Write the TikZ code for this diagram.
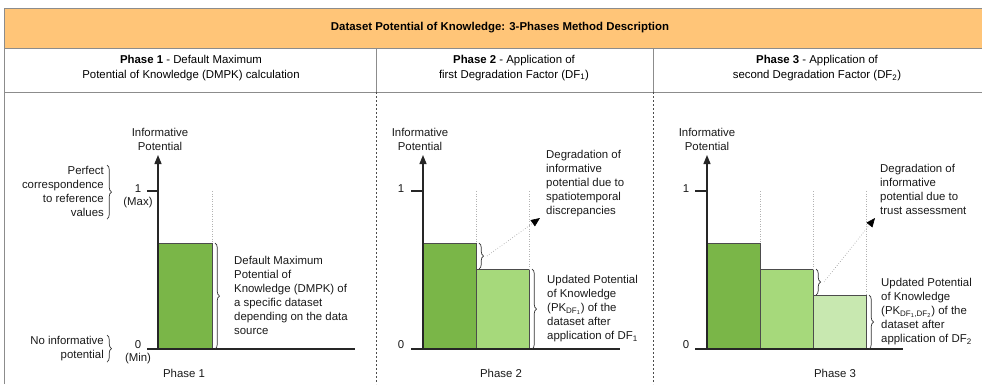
\documentclass[tikz,border=0pt]{standalone}
\usepackage{fontspec}
\setmainfont{Liberation Sans}
\usetikzlibrary{arrows.meta,decorations.pathreplacing}
\definecolor{hdrorange}{HTML}{FFC578}
\definecolor{gdark}{HTML}{7AB648}
\definecolor{gmid}{HTML}{A6D97B}
\definecolor{glight}{HTML}{C8E8B0}
\definecolor{framegray}{HTML}{8C8C8C}
\begin{document}
\begin{tikzpicture}[x=1pt,y=-1pt,
  txt/.style={font=\fontsize{11.4}{14}\selectfont, inner sep=0pt, text=black!90},
  hdr/.style={font=\fontsize{11.4}{14.5}\selectfont, inner sep=0pt, align=center},
  bar/.style={draw=black!70, line width=0.6pt},
  axis/.style={line width=1.3pt, black!85},
  axarrow/.style={line width=1.3pt, black!85, -{Triangle[length=9pt,width=7pt]}},
  guide/.style={draw=black!30, line width=0.5pt, dotted},
  brc/.style={decorate, decoration={brace, amplitude=4.5pt, aspect=0.5}, line width=0.7pt, black!80},
  pointer/.style={draw=black!45, line width=0.6pt, dotted, -{Triangle[length=9pt,width=7.5pt,black]}},
  sep/.style={draw=black!70, line width=0.6pt, dash pattern=on 2pt off 2pt},
]
\useasboundingbox (0,0) rectangle (982,384);
% ---------- frame ----------
\fill[hdrorange] (4,8) rectangle (982,48);
\draw[framegray, line width=0.8pt] (4,384) -- (4,8) -- (982,8);
\draw[framegray, line width=0.8pt] (4,48) -- (982,48);
\draw[framegray, line width=0.8pt] (4,92) -- (982,92);
\draw[framegray, line width=0.8pt] (376,48) -- (376,92);
\draw[framegray, line width=0.8pt] (653,48) -- (653,92);
\draw[sep] (376,92) -- (376,384);
\draw[sep] (653,92) -- (653,384);
\node[hdr, font=\fontsize{11.4}{14}\selectfont\bfseries] (title) at (500,28) {Dataset Potential of Knowledge: 3-Phases Method Description};
\node[hdr] (h1) at (191,68) {\textbf{Phase 1} - Default Maximum\\Potential of Knowledge (DMPK) calculation};
\node[hdr] (h2) at (514,68) {\textbf{Phase 2} - Application of\\first Degradation Factor (DF\textsubscript{1})};
\node[hdr] (h3) at (817,68) {\textbf{Phase 3} - Application of\\second Degradation Factor (DF\textsubscript{2})};

% ---------- Phase 1 ----------
\coordinate (o1) at (158,349);
\coordinate (t1) at (158,155);
\coordinate (b1s) at (147,349);
\coordinate (b1e) at (355,349);
\fill[gdark] (158,243) rectangle (212,349);
\draw[bar] (158,349) -- (158,243) -- (212,243) -- (212,349);
\draw[guide] (212,191) -- (212,243);
\draw[axis] (b1s) -- (b1e);
\draw[axarrow] (o1) -- (t1);
\draw[axis] (147,191) -- (158,191);
\node[txt, align=center] (ip1) at (160,139) {Informative\\Potential};
\node[txt] (one1) at (138,189) {1};
\node[txt] (max1) at (138,203) {(Max)};
\node[txt] (zero1) at (138,345) {0};
\node[txt] (min1) at (138,359) {(Min)};
\draw[brc] (107,165) -- (107,219);
\node[txt, align=right, anchor=north east] (perf) at (104,166) {Perfect\\correspondence\\to reference\\values};
\draw[brc] (107,335) -- (107,362);
\node[txt, align=right, anchor=north east] (noinf) at (104,336) {No informative\\potential};
\draw[brc] (215,243) -- (215,349);
\node[txt, align=left, anchor=north west] (dmpk) at (234,256) {Default Maximum\\Potential of\\Knowledge (DMPK) of\\a specific dataset\\depending on the data\\source};
\node[txt] (p1) at (184,373) {Phase 1};

% ---------- Phase 2 ----------
\coordinate (o2) at (423,349);
\coordinate (t2) at (423,155);
\fill[gdark] (423,243) rectangle (476,349);
\fill[gmid] (476,269) rectangle (529,349);
\draw[bar] (423,349) -- (423,243) -- (476,243) -- (476,349);
\draw[bar] (476,269) -- (529,269) -- (529,349);
\draw[guide] (476,191) -- (476,243);
\draw[guide] (529,191) -- (529,269);
\draw[axis] (411,349) -- (620,349);
\draw[axarrow] (o2) -- (t2);
\draw[axis] (411,191) -- (423,191);
\node[txt, align=center] (ip2) at (420,139) {Informative\\Potential};
\node[txt] (one2) at (401,189) {1};
\node[txt] (zero2) at (401,345) {0};
\draw[brc] (479,243) -- (479,269);
\coordinate (d2s) at (487,256);
\coordinate (d2e) at (540,218);
\draw[pointer] (d2s) -- (d2e);
\node[txt, align=left, anchor=north west] (deg2) at (546,150) {Degradation of\\informative\\potential due to\\spatiotemporal\\discrepancies};
\draw[brc] (532,269) -- (532,349);
\node[txt, align=left, anchor=north west] (upd2) at (547,275) {Updated Potential\\of Knowledge\\(PK\textsubscript{DF\textsubscript{1}}) of the\\dataset after\\application of DF\textsubscript{1}};
\node[txt] (p2) at (501,373) {Phase 2};

% ---------- Phase 3 ----------
\coordinate (o3) at (707,349);
\coordinate (t3) at (707,155);
\fill[gdark] (707,243) rectangle (760,349);
\fill[gmid] (760,269) rectangle (813,349);
\fill[glight] (813,295) rectangle (866,349);
\draw[bar] (707,349) -- (707,243) -- (760,243) -- (760,349);
\draw[bar] (760,269) -- (813,269) -- (813,349);
\draw[bar] (813,295) -- (866,295) -- (866,349);
\draw[guide] (760,191) -- (760,243);
\draw[guide] (813,191) -- (813,269);
\draw[guide] (866,191) -- (866,295);
\draw[axis] (695,349) -- (903,349);
\draw[axarrow] (o3) -- (t3);
\draw[axis] (695,191) -- (707,191);
\node[txt, align=center] (ip3) at (707,139) {Informative\\Potential};
\node[txt] (one3) at (686,189) {1};
\node[txt] (zero3) at (686,345) {0};
\draw[brc] (816,269) -- (816,295);
\coordinate (d3s) at (824,282);
\coordinate (d3e) at (875,218);
\draw[pointer] (d3s) -- (d3e);
\node[txt, align=left, anchor=north west] (deg3) at (880,164) {Degradation of\\informative\\potential due to\\trust assessment};
\draw[brc] (869,295) -- (869,349);
\node[txt, align=left, anchor=north west] (upd3) at (881,278) {Updated Potential\\of Knowledge\\(PK\textsubscript{DF\textsubscript{1},DF\textsubscript{2}}) of the\\dataset after\\application of DF\textsubscript{2}};
\node[txt] (p3) at (835,373) {Phase 3};
\end{tikzpicture}
\end{document}
